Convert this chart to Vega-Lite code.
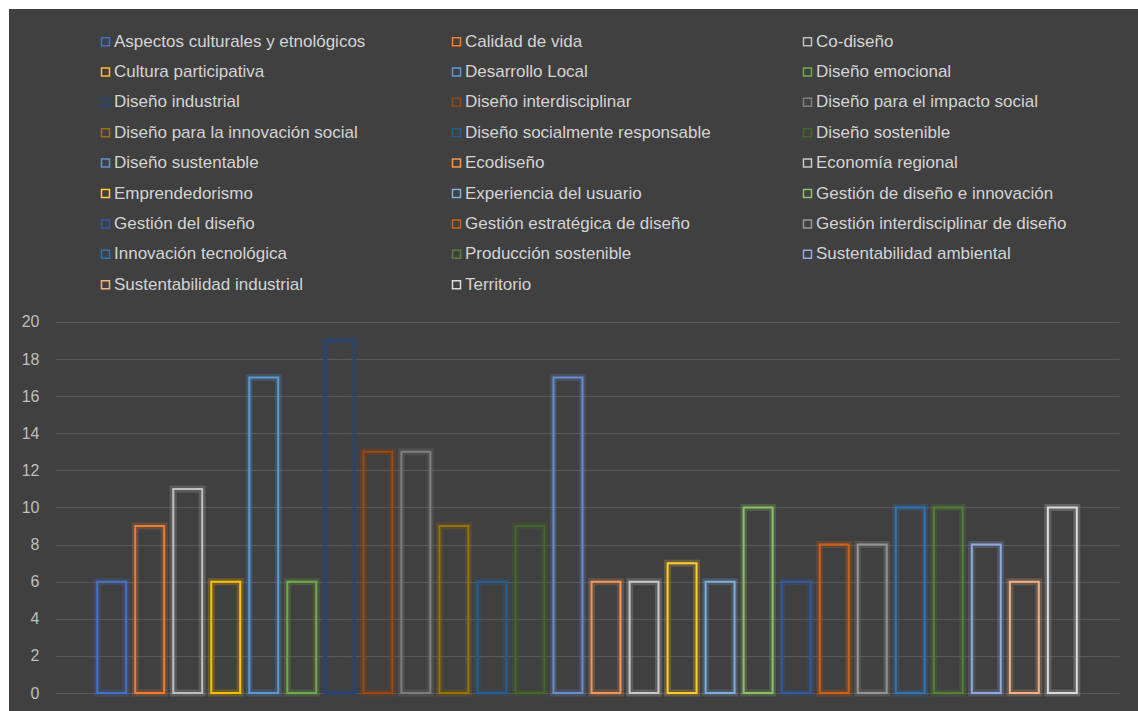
{
  "$schema": "https://vega.github.io/schema/vega-lite/v6.json",
  "width": 1129,
  "height": 702,
  "autosize": {"type": "none"},
  "padding": {"left": 9, "top": 9, "right": 0, "bottom": 0},
  "background": "#ffffff",
  "view": {"fill": "#404040", "stroke": null},
  "config": {"font": "Liberation Sans"},
  "data": {
    "values": [
      {"tema": "Aspectos culturales y etnológicos", "n": 6},
      {"tema": "Calidad de vida", "n": 9},
      {"tema": "Co-diseño", "n": 11},
      {"tema": "Cultura participativa", "n": 6},
      {"tema": "Desarrollo Local", "n": 17},
      {"tema": "Diseño emocional", "n": 6},
      {"tema": "Diseño industrial", "n": 19},
      {"tema": "Diseño interdisciplinar", "n": 13},
      {"tema": "Diseño para el impacto social", "n": 13},
      {"tema": "Diseño para la innovación social", "n": 9},
      {"tema": "Diseño socialmente responsable", "n": 6},
      {"tema": "Diseño sostenible", "n": 9},
      {"tema": "Diseño sustentable", "n": 17},
      {"tema": "Ecodiseño", "n": 6},
      {"tema": "Economía regional", "n": 6},
      {"tema": "Emprendedorismo", "n": 7},
      {"tema": "Experiencia del usuario", "n": 6},
      {"tema": "Gestión de diseño e innovación", "n": 10},
      {"tema": "Gestión del diseño", "n": 6},
      {"tema": "Gestión estratégica de diseño", "n": 8},
      {"tema": "Gestión interdisciplinar de diseño", "n": 8},
      {"tema": "Innovación tecnológica", "n": 10},
      {"tema": "Producción sostenible", "n": 10},
      {"tema": "Sustentabilidad ambiental", "n": 8},
      {"tema": "Sustentabilidad industrial", "n": 6},
      {"tema": "Territorio", "n": 10}
    ]
  },
  "encoding": {
    "x": {
      "field": "tema",
      "type": "nominal",
      "sort": null,
      "scale": {"range": [46, 1110], "paddingInner": 0.02, "paddingOuter": 1},
      "axis": null
    },
    "y": {
      "field": "n",
      "type": "quantitative",
      "scale": {"domain": [-0.97, 36.87], "nice": false, "zero": false},
      "axis": {
        "values": [0, 2, 4, 6, 8, 10, 12, 14, 16, 18, 20],
        "grid": true,
        "gridColor": "#595959",
        "gridWidth": 1,
        "domain": false,
        "ticks": false,
        "tickSize": 0,
        "labelPadding": 0,
        "offset": -30,
        "labelColor": "#bfbfbf",
        "labelFontSize": 16,
        "labelFont": "Liberation Sans",
        "title": null
      }
    },
    "y2": {"datum": 0},
    "stroke": {
      "field": "tema",
      "type": "nominal",
      "sort": null,
      "scale": {
        "domain": ["Aspectos culturales y etnológicos", "Cultura participativa", "Diseño industrial", "Diseño para la innovación social", "Diseño sustentable", "Emprendedorismo", "Gestión del diseño", "Innovación tecnológica", "Sustentabilidad industrial",
                   "Calidad de vida", "Desarrollo Local", "Diseño interdisciplinar", "Diseño socialmente responsable", "Ecodiseño", "Experiencia del usuario", "Gestión estratégica de diseño", "Producción sostenible", "Territorio",
                   "Co-diseño", "Diseño emocional", "Diseño para el impacto social", "Diseño sostenible", "Economía regional", "Gestión de diseño e innovación", "Gestión interdisciplinar de diseño", "Sustentabilidad ambiental"],
        "range": ["#4472C4", "#FFC000", "#264478", "#997300", "#698ED0", "#FFCD33", "#335AA1", "#2F75B5", "#F4B183",
                  "#ED7D31", "#5B9BD5", "#9E480E", "#255E91", "#F1975A", "#7CAFDD", "#D26012", "#548235", "#DBDBDB",
                  "#BFBFBF", "#70AD47", "#7F7F7F", "#43682B", "#C9C9C9", "#8CC168", "#969696", "#8FAADC"]
      },
      "legend": {
        "orient": "none",
        "legendX": 88,
        "legendY": 24,
        "columns": 3,
        "gridAlign": "all",
        "columnPadding": 82,
        "rowPadding": 12.4,
        "padding": 0,
        "title": null,
        "symbolType": "square",
        "symbolSize": 64,
        "symbolStrokeWidth": 1.5,
        "symbolFillColor": "transparent",
        "symbolOpacity": 1,
        "labelFont": "Liberation Sans",
        "labelFontSize": 17,
        "labelColor": "#d4d4d4",
        "labelOffset": 0,
        "labelLimit": 400
      }
    }
  },
  "layer": [
    {"mark": {"type": "bar", "fill": "transparent", "strokeWidth": 7, "strokeOpacity": 0.22, "width": {"band": 0.776}}},
    {"mark": {"type": "bar", "fill": "transparent", "strokeWidth": 2, "width": {"band": 0.776}}}
  ]
}
